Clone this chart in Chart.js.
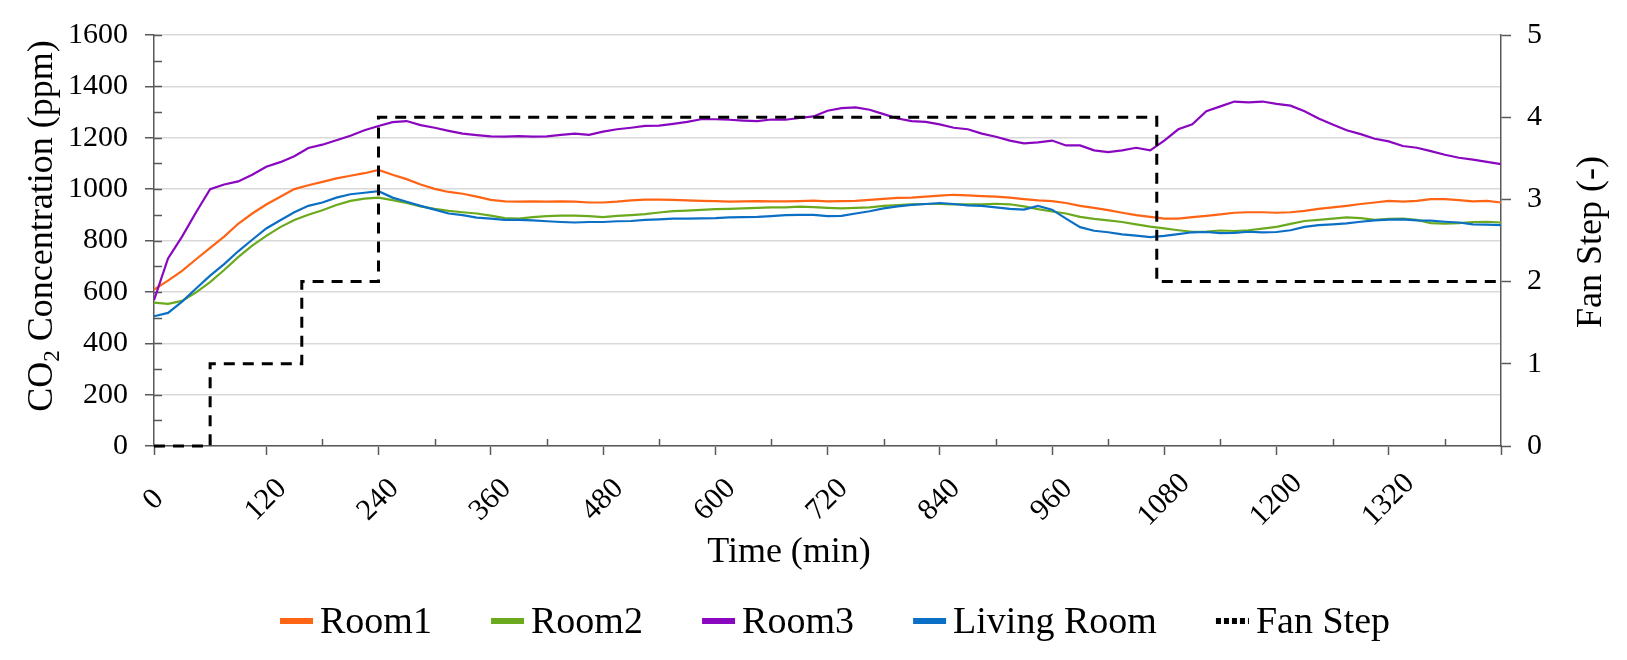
<!DOCTYPE html>
<html>
<head>
<meta charset="utf-8">
<script src="https://cdn.jsdelivr.net/npm/chart.js@4.4.0/dist/chart.umd.min.js"></script>
<style>
html,body{margin:0;padding:0;background:#fff;}
#wrap{width:1627px;height:660px;position:relative;}
</style>
</head>
<body>
<div id="wrap"><canvas id="c" width="1627" height="660"></canvas></div>
<script>
// ---------- DATA ----------
const times = [0,15,30,45,60,75,90,105,120,135,150,165,180,195,210,225,240,
255,270,285,300,315,330,345,360,375,390,405,420,435,450,465,480,
495,510,525,540,555,570,585,600,615,630,645,660,675,690,705,720,
735,750,765,780,795,810,825,840,855,870,885,900,915,930,945,960,
975,990,1005,1020,1035,1050,1065,1080,1095,1110,1125,1140,1155,1170,1185,1200,
1215,1230,1245,1260,1275,1290,1305,1320,1335,1350,1365,1380,1395,1410,1425,1440];

const room1 = [609,644,682,727,771,815,865,905,940,970,1000,1015,1028,1042,1052,1062,1075,
1056,1039,1018,1001,989,982,971,958,952,951,952,951,952,951,948,948,
951,956,959,959,958,956,954,953,951,952,953,952,952,953,955,952,
953,954,958,962,966,967,971,975,978,976,973,971,967,961,956,953,
946,935,927,918,908,899,892,885,885,891,896,902,908,910,910,908,
910,915,923,929,935,942,948,954,951,954,961,961,957,952,954,948];

const room2 = [558,553,565,598,638,685,735,780,818,852,880,900,918,938,954,963,967,
957,946,933,923,915,910,905,897,887,885,891,895,897,897,895,891,
896,899,903,909,914,916,919,922,923,925,927,929,929,932,930,927,
925,927,929,935,938,941,942,942,941,941,941,943,941,933,922,913,
905,892,884,878,872,863,854,847,840,834,835,839,837,840,846,853,
865,876,880,885,890,887,880,884,885,880,868,866,868,872,873,870];

const room3 = [568,730,815,910,1000,1018,1030,1056,1087,1105,1128,1160,1173,1190,1208,1229,1246,
1261,1265,1249,1239,1227,1216,1210,1205,1204,1206,1204,1205,1211,1216,1211,1224,
1233,1239,1246,1247,1254,1262,1272,1272,1270,1267,1265,1271,1270,1277,1283,1305,
1315,1318,1309,1292,1275,1265,1262,1252,1239,1233,1216,1204,1189,1178,1182,1189,
1170,1170,1151,1144,1151,1161,1151,1189,1233,1252,1303,1322,1341,1338,1341,1332,
1325,1303,1275,1252,1229,1214,1196,1186,1168,1161,1148,1134,1122,1115,1106,1097];

const livingRoom = [505,518,562,613,663,708,758,803,847,879,910,935,948,967,980,986,992,
967,951,935,920,905,899,889,885,880,880,878,875,872,870,872,872,
875,876,880,882,885,885,886,887,890,891,892,895,899,900,900,895,
896,905,914,925,933,939,942,946,942,937,935,929,923,920,935,920,
885,852,838,832,824,819,813,818,825,832,833,829,830,834,832,833,
840,853,860,863,867,873,878,881,882,878,877,873,870,863,862,860];

const fanTimes = [0,60,158,240,1072,1440];
const fanSteps = [0,1,2,4,2,2];

const seriesNames = ['Room1','Room2','Room3','Living Room','Fan Step'];
const xTickLabels = ['0','120','240','360','480','600','720','840','960','1080','1200','1320'];
const yMinorTicks = [0,100,200,300,400,500,600,700,800,900,1000,1100,1200,1300,1400,1500,1600];
const xMinorTicks = [60,180,300,420,540,660,780,900,1020,1140,1260,1380];
const yTitleParts = ['CO','2',' Concentration (ppm)'];
const y2Title = 'Fan Step (-)';
const xTitle = 'Time (min)';

// ---------- STYLE ----------
const colors = ['#FF6414','#6BAA1E','#8A07C0','#0B6FC6','#000000'];
const FAMILY = 'Liberation Serif';
const FONT = '"Liberation Serif", serif';
const AXIS = '#595959';
Chart.defaults.font.family = FAMILY;

function pts(xs, ys){ return xs.map((x,i)=>({x:x, y:ys[i]})); }

const innerTicks = {
  id:'innerTicks',
  beforeDatasetsDraw(chart){
    const {ctx, scales:{x, y}} = chart;
    ctx.save();
    ctx.strokeStyle = AXIS; ctx.lineWidth = 1.5;
    ctx.beginPath();
    yMinorTicks.forEach(v=>{ const py = Math.round(y.getPixelForValue(v))+0.5; ctx.moveTo(x.left, py); ctx.lineTo(x.left+8, py); });
    xMinorTicks.forEach(v=>{ const px = Math.round(x.getPixelForValue(v))+0.5; ctx.moveTo(px, y.bottom); ctx.lineTo(px, y.bottom-7); });
    ctx.stroke();
    ctx.restore();
  }
};

const overlay = {
  id:'overlay',
  afterDraw(chart){
    const ctx = chart.ctx;
    ctx.save();
    ctx.fillStyle = '#000';
    ctx.textBaseline = 'alphabetic';
    ctx.textAlign = 'left';
    const big = '36px ' + FONT, small = '23px ' + FONT;
    // left axis title with subscript
    ctx.save();
    ctx.translate(52, 226);
    ctx.rotate(-Math.PI/2);
    ctx.font = big; const w1 = ctx.measureText(yTitleParts[0]).width; const w3 = ctx.measureText(yTitleParts[2]).width;
    ctx.font = small; const w2 = ctx.measureText(yTitleParts[1]).width;
    const x0 = -(w1+w2+w3)/2;
    ctx.font = big; ctx.fillText(yTitleParts[0], x0, 0);
    ctx.font = small; ctx.fillText(yTitleParts[1], x0+w1, 7);
    ctx.font = big; ctx.fillText(yTitleParts[2], x0+w1+w2, 0);
    ctx.restore();
    // right axis title
    ctx.save();
    ctx.translate(1601, 242);
    ctx.rotate(-Math.PI/2);
    ctx.font = big; ctx.textAlign = 'center';
    ctx.fillText(y2Title, 0, 0);
    ctx.restore();
    // x axis title
    ctx.font = big; ctx.textAlign = 'center';
    ctx.fillText(xTitle, 789, 562);
    // legend
    ctx.font = '38px ' + FONT; ctx.textAlign = 'left'; ctx.textBaseline = 'middle';
    const mW = 33, gap = 7, left = 280, right = 1390, cy = 621;
    const tws = seriesNames.map(n=>ctx.measureText(n).width);
    const used = tws.reduce((a,b)=>a+b,0) + seriesNames.length*(mW+gap);
    const G = (right-left-used)/(seriesNames.length-1);
    let xx = left;
    seriesNames.forEach((n,i)=>{
      ctx.save();
      ctx.strokeStyle = colors[i];
      ctx.lineWidth = 6;
      if (i === 4) { ctx.setLineDash([5,3]); }
      ctx.beginPath(); ctx.moveTo(xx, cy); ctx.lineTo(xx+mW, cy); ctx.stroke();
      ctx.restore();
      ctx.fillStyle = '#000';
      ctx.fillText(n, xx+mW+gap, cy+2);
      xx += mW + gap + tws[i] + G;
    });
    ctx.restore();
  }
};

const lineDs = (label, data, color, order) => ({
  label, data: pts(times, data), borderColor: color, backgroundColor: color,
  borderWidth: 2.2, pointRadius: 0, tension: 0, yAxisID: 'y', order
});

new Chart(document.getElementById('c'), {
  type: 'line',
  data: {
    datasets: [
      lineDs(seriesNames[0], room1, colors[0], 5),
      lineDs(seriesNames[1], room2, colors[1], 4),
      lineDs(seriesNames[2], room3, colors[2], 3),
      lineDs(seriesNames[3], livingRoom, colors[3], 2),
      { label: seriesNames[4], data: pts(fanTimes, fanSteps), borderColor: '#000', backgroundColor: '#000',
        borderWidth: 3, borderDash: [11,8], pointRadius: 0, stepped: 'before', yAxisID: 'y2', order: 1, clip: 6 }
    ]
  },
  options: {
    responsive: false, animation: false, devicePixelRatio: 1,
    layout: { padding: { top: 25, left: 0, right: 0, bottom: 0 } },
    plugins: { legend: { display: false }, tooltip: { enabled: false } },
    scales: {
      x: {
        type: 'linear', position: 'bottom', min: 0, max: 1440,
        afterFit: s => { s.height = 214; },
        grid: { drawOnChartArea: false, drawTicks: true, tickLength: 9, tickColor: AXIS, tickWidth: 1.5 },
        border: { color: AXIS, width: 1.5 },
        ticks: {
          stepSize: 120, autoSkip: false, maxRotation: 45, minRotation: 45, padding: 11, labelOffset: 21,
          color: '#000', font: { family: FAMILY, size: 30 },
          callback: v => xTickLabels.includes(String(v)) ? String(v).padEnd(4, ' ') : ''
        }
      },
      y: {
        position: 'left', min: 0, max: 1600,
        afterFit: s => { s.width = 154; },
        grid: { color: '#d9d9d9', lineWidth: 1.5, drawTicks: true, tickLength: 9, tickColor: AXIS, tickWidth: 1.5 },
        border: { color: AXIS, width: 1.5 },
        ticks: { stepSize: 200, padding: 17, color: '#000', font: { family: FAMILY, size: 30 }, callback: v => String(v) }
      },
      y2: {
        position: 'right', min: 0, max: 5,
        afterFit: s => { s.width = 126; },
        grid: { drawOnChartArea: false, drawTicks: true, tickLength: 10, tickColor: AXIS, tickWidth: 1.5 },
        border: { color: AXIS, width: 1.5 },
        ticks: { stepSize: 1, padding: 16, color: '#000', font: { family: FAMILY, size: 30 }, callback: v => String(v) }
      }
    }
  },
  plugins: [innerTicks, overlay]
});
</script>
</body>
</html>
